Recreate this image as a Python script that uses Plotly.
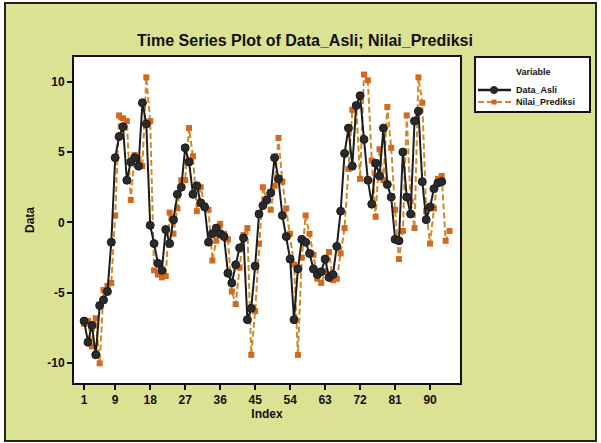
import plotly.graph_objects as go

# ---- data ----
data_asli = [-7.0, -8.5, -7.3, -9.4, -5.9, -5.5, -4.9, -1.4, 4.6, 6.1,
             6.8, 3.0, 4.3, 4.6, 4.0, 8.5, 7.0, -0.2, -1.5, -2.9,
             -3.4, -0.5, -1.5, 0.2, 2.0, 2.5, 5.3, 4.3, 2.0, 2.6,
             1.4, 1.1, -1.4, -0.8, -0.4, -0.8, -1.0, -3.6, -4.3, -3.0,
             -1.8, -1.1, -6.9, -6.1, -3.1, 0.6, 1.2, 1.6, 2.1, 4.6,
             3.1, 0.5, -1.0, -2.6, -6.9, -3.3, -1.2, -1.4, -2.2, -3.3,
             -3.7, -3.5, -2.6, -3.9, -3.7, -1.7, 0.8, 4.9, 6.7, 4.0,
             8.3, 9.0, 5.9, 3.0, 1.3, 4.2, 3.3, 6.7, 2.7, 1.8,
             -1.2, -1.3, 5.0, 1.8, 0.6, 7.2, 7.9, 2.9, 0.2, 1.1,
             2.4, 2.8, 2.9]

nilai_prediksi = [-7.2, -7.0, -8.8, -6.8, -10.0, -4.8, -4.5, -4.3, 0.5, 7.6,
                  7.4, 7.2, 1.6, 4.8, 4.5, 4.0, 10.3, 7.2, -3.4, -3.7,
                  -3.9, -3.8, 0.7, -0.8, 1.0, 3.0, 3.0, 6.7, 4.7, 0.8,
                  2.5, 1.2, 0.9, -2.7, -1.3, -0.1, -0.8, -1.2, -4.9, -5.8,
                  -3.2, -0.9, -0.4, -9.4, -6.3, -1.5, 2.5, 1.6, 0.9, 2.6,
                  6.0, 2.9, 1.0, -0.8, -3.0, -9.4, -2.5, 0.5, -0.8, -2.3,
                  -4.0, -4.3, -3.5, -2.1, -4.1, -4.0, -2.2, -0.4, 3.8, 8.0,
                  8.3, 3.1, 10.5, 10.1, 4.4, 0.4, 5.2, 3.0, 8.2, 5.3,
                  0.9, -2.6, -0.6, 7.6, 1.5, -0.4, 10.3, 8.5, 0.8, -1.5,
                  1.0, 3.1, 3.3, -1.3, -0.6]

x_ticks = [1, 9, 18, 27, 36, 45, 54, 63, 72, 81, 90]
y_ticks = [-10, -5, 0, 5, 10]
y_tick_labels = ["-10", "-5", "0", "5", "10"]

idx_asli = list(range(1, len(data_asli) + 1))
idx_pred = list(range(1, len(nilai_prediksi) + 1))

BG = "#DCE294"
BLACK = "#1c1c1c"
ORANGE = "#D2691E"
ORANGE_LINE = "#D08A2A"
FONT = "Liberation Sans, Arial, sans-serif"

fig = go.Figure()
fig.add_trace(go.Scatter(
    x=idx_pred, y=nilai_prediksi, mode="lines+markers", name="Nilai_Prediksi",
    line=dict(color=ORANGE_LINE, width=2, dash="6px,3px"),
    marker=dict(symbol="square", size=6, color=ORANGE),
))
fig.add_trace(go.Scatter(
    x=idx_asli, y=data_asli, mode="lines+markers", name="Data_Asli",
    line=dict(color=BLACK, width=2),
    marker=dict(symbol="circle", size=8, color="#2a2a2a",
                line=dict(color=BLACK, width=1)),
))

# plot area geometry (px)
L, R, T, B = 74, 460, 57, 383
W, H = 601, 443
pw, ph = R - L, B - T


def px(xp):
    return (xp - L) / pw


def py(yp):
    return (B - yp) / ph


shapes = [
    # white plot area
    dict(type="rect", xref="paper", yref="paper", x0=0, x1=1, y0=0, y1=1,
         fillcolor="white", line=dict(width=0), layer="below"),
    # white margins outside the frame
    dict(type="rect", xref="paper", yref="paper", x0=px(-5), x1=px(5), y0=py(H + 5), y1=py(-5),
         fillcolor="white", line=dict(width=0)),
    dict(type="rect", xref="paper", yref="paper", x0=px(596), x1=px(W + 5), y0=py(H + 5), y1=py(-5),
         fillcolor="white", line=dict(width=0)),
    dict(type="rect", xref="paper", yref="paper", x0=px(-5), x1=px(W + 5), y0=py(3), y1=py(-5),
         fillcolor="white", line=dict(width=0)),
    dict(type="rect", xref="paper", yref="paper", x0=px(-5), x1=px(W + 5), y0=py(H + 5), y1=py(441),
         fillcolor="white", line=dict(width=0)),
    # frame border
    dict(type="rect", xref="paper", yref="paper", x0=px(5), x1=px(596), y0=py(441), y1=py(3),
         line=dict(color="#222", width=2)),
    # legend box
    dict(type="rect", xref="paper", yref="paper", x0=px(475), x1=px(590), y0=py(112), y1=py(57),
         fillcolor="white", line=dict(color="#111", width=2)),
    # legend symbols
    dict(type="line", xref="paper", yref="paper", x0=px(478), x1=px(511), y0=py(90), y1=py(90),
         line=dict(color=BLACK, width=2.5)),
    dict(type="circle", xref="paper", yref="paper", x0=px(490.5), x1=px(497.5), y0=py(93.5), y1=py(86.5),
         fillcolor="#2a2a2a", line=dict(color=BLACK, width=1)),
    dict(type="line", xref="paper", yref="paper", x0=px(478), x1=px(511), y0=py(102), y1=py(102),
         line=dict(color=ORANGE_LINE, width=2, dash="6px,3px")),
    dict(type="rect", xref="paper", yref="paper", x0=px(491.5), x1=px(496.5), y0=py(104.5), y1=py(99.5),
         fillcolor=ORANGE, line=dict(width=0)),
]

annotations = [
    dict(text="Variable", xref="paper", yref="paper", x=px(533), y=py(72),
         showarrow=False, xanchor="center", yanchor="middle",
         font=dict(family=FONT, size=9, color="#111", weight="bold")),
    dict(text="Data_Asli", xref="paper", yref="paper", x=px(514), y=py(90),
         showarrow=False, xanchor="left", yanchor="middle",
         font=dict(family=FONT, size=9, color="#111", weight="bold")),
    dict(text="Nilai_Prediksi", xref="paper", yref="paper", x=px(514), y=py(102),
         showarrow=False, xanchor="left", yanchor="middle",
         font=dict(family=FONT, size=9, color="#111", weight="bold")),
]

fig.update_layout(
    width=W, height=H,
    margin=dict(l=L, r=W - R, t=T, b=H - B, pad=0),
    paper_bgcolor=BG, plot_bgcolor="rgba(0,0,0,0)",
    showlegend=False,
    title=dict(text="Time Series Plot of Data_Asli; Nilai_Prediksi",
               x=305 / W, xanchor="center", y=1 - 40 / H, yanchor="middle",
               font=dict(family=FONT, size=16, color="#111", weight="bold")),
    shapes=shapes, annotations=annotations,
    font=dict(family=FONT, color="#111"),
)
fig.update_xaxes(
    range=[-1.6, 97.7], tickmode="array", tickvals=x_ticks,
    ticks="outside", ticklen=5, tickwidth=2, tickcolor="#111",
    showline=True, linecolor="#111", linewidth=2, mirror=True,
    showgrid=False, zeroline=False,
    tickfont=dict(family=FONT, size=12, color="#111", weight="bold"),
    title=dict(text="Index", standoff=3,
               font=dict(family=FONT, size=12, color="#111", weight="bold")),
)
fig.update_yaxes(
    range=[-11.4, 11.75], tickmode="array", tickvals=y_ticks, ticktext=y_tick_labels,
    ticks="outside", ticklen=5, tickwidth=2, tickcolor="#111",
    showline=True, linecolor="#111", linewidth=2, mirror=True,
    showgrid=False, zeroline=False,
    tickfont=dict(family=FONT, size=12, color="#111", weight="bold"),
    title=dict(text="Data", standoff=10,
               font=dict(family=FONT, size=12, color="#111", weight="bold")),
)

fig.write_html("out.html", config={"displayModeBar": False},
               post_script="document.body.style.margin='0px';document.body.style.overflow='hidden';")
